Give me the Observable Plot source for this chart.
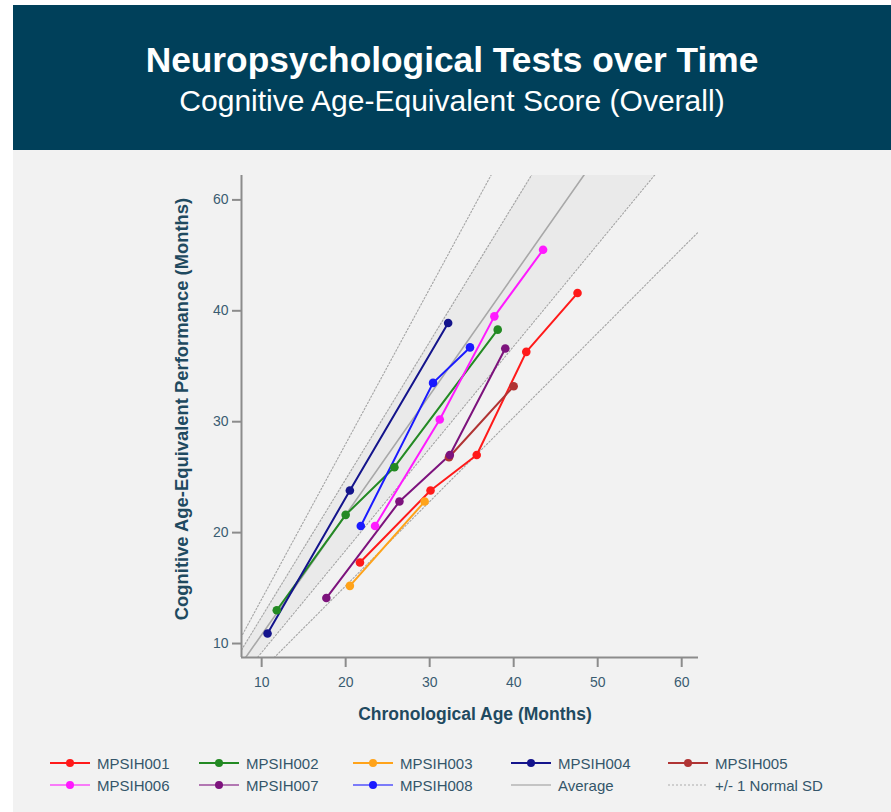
<!DOCTYPE html>
<html>
<head>
<meta charset="utf-8">
<script src="https://cdn.jsdelivr.net/npm/d3@7"></script>
<script src="https://cdn.jsdelivr.net/npm/@observablehq/plot@0.6"></script>
<style>
  html, body { margin: 0; padding: 0; background: #ffffff; }
  body { width: 891px; height: 812px; position: relative; overflow: hidden;
         font-family: "Liberation Sans", Arial, sans-serif; }
  #panel { position: absolute; left: 13px; top: 150px; width: 878px; height: 662px; background: #f2f2f2; }
  #header { position: absolute; left: 13px; top: 5px; width: 878px; height: 145px; background: #00405a;
            color: #ffffff; text-align: center; }
  #header .t { position: absolute; left: 0; right: 0; top: 35px; font-size: 35.3px; font-weight: bold; line-height: 40px; }
  #header .s { position: absolute; left: 0; right: 0; top: 79px; font-size: 30px; line-height: 34px; }
  #chart { position: absolute; left: 0; top: 150px; }
  .axis-title { position: absolute; color: #1f4a60; font-weight: bold; white-space: nowrap; }
  #xtitle { left: 475px; top: 714px; font-size: 17.5px; transform: translate(-50%, -50%); }
  #ytitle { left: 182px; top: 409px; font-size: 18.4px; transform: translate(-50%, -50%) rotate(-90deg); }
  #legend { position: absolute; left: 0; top: 0; }
  .item { position: absolute; display: flex; align-items: center; height: 20px; font-size: 15px; color: #34566a; white-space: nowrap; }
  .item svg { margin-right: 7px; }
</style>
</head>
<body>
<div id="panel"></div>
<div id="header">
  <div class="t">Neuropsychological Tests over Time</div>
  <div class="s">Cognitive Age-Equivalent Score (Overall)</div>
</div>
<div id="chart"></div>
<div class="axis-title" id="xtitle">Chronological Age (Months)</div>
<div class="axis-title" id="ytitle">Cognitive Age-Equivalent Performance (Months)</div>
<div id="legend"></div>
<script>
// Subjects and their colours
const subjectIds = ["MPSIH001", "MPSIH002", "MPSIH003", "MPSIH004", "MPSIH005", "MPSIH006", "MPSIH007", "MPSIH008"];
const subjectColors = ["#ff1a1a", "#238a23", "#ffa31a", "#14148c", "#b03434", "#ff1aff", "#7d137d", "#1a1aff"];

// Chronological age (months) at each visit, per subject
const age001 = [21.7, 30.1, 35.6, 41.5, 47.6];
const age002 = [11.8, 20.0, 25.8, 38.1];
const age003 = [20.5, 29.4];
const age004 = [10.7, 20.5, 32.2];
const age005 = [32.3, 40.0];
const age006 = [23.5, 31.2, 37.7, 43.5];
const age007 = [17.7, 26.4, 32.4, 39.0];
const age008 = [21.8, 30.4, 34.8];

// Cognitive age-equivalent score (months) at each visit
const score001 = [17.3, 23.8, 27.0, 36.3, 41.6];
const score002 = [13.0, 21.6, 25.9, 38.3];
const score003 = [15.2, 22.8];
const score004 = [10.9, 23.8, 38.9];
const score005 = [26.8, 33.2];
const score006 = [20.6, 30.2, 39.5, 45.5];
const score007 = [14.1, 22.8, 27.0, 36.6];
const score008 = [20.6, 33.5, 36.7];

// Normative reference: average ratio of cognitive to chronological age, and the SD bands
const averageSlope = 1.08;
const sdSlopes = [1.40, 1.24, 0.92, 0.76];
const bandLow = 0.92;
const bandHigh = 1.24;

// Axis ranges and ticks
const xDomain = [7.6, 62];
const yDomain = [8.74, 52.2];
const xTicks = [10, 20, 30, 40, 50, 60];
const yTicks = [10, 20, 30, 40, 50];
const yTickLabels = ["10", "20", "30", "40", "60"];

const ages = [age001, age002, age003, age004, age005, age006, age007, age008];
const scores = [score001, score002, score003, score004, score005, score006, score007, score008];
const visits = subjectIds.flatMap((id, i) => ages[i].map((a, j) => ({id, age: a, score: scores[i][j]})));

const xSpan = [0, 70];
const refRows = xSpan.map(x => ({x, y: x * averageSlope}));
const sdRows = sdSlopes.flatMap(k => xSpan.map(x => ({k, x, y: x * k})));
const yLabelOf = new Map(yTicks.map((t, i) => [t, yTickLabels[i]]));

const axisGray = "#8c8c8c";
const tickText = "#3a5c71";

const chart = Plot.plot({
  width: 891,
  height: 590,
  marginLeft: 241,
  marginRight: 193,
  marginTop: 25,
  marginBottom: 83,
  style: {background: "transparent", fontFamily: "'Liberation Sans', Arial, sans-serif", fontSize: "14px"},
  x: {domain: xDomain},
  y: {domain: yDomain},
  color: {domain: subjectIds, range: subjectColors},
  marks: [
    Plot.areaY(xSpan, {x: d => d, y1: d => d * bandLow, y2: d => d * bandHigh, fill: "#eaeaea", clip: true}),
    Plot.line(sdRows, {x: "x", y: "y", z: "k", stroke: "#a4a4a4", strokeWidth: 1.1, strokeDasharray: "1.5,2", clip: true}),
    Plot.line(refRows, {x: "x", y: "y", stroke: "#a8a8a8", strokeWidth: 1.6, clip: true}),
    Plot.line(visits, {x: "age", y: "score", z: "id", stroke: "id", strokeWidth: 2}),
    Plot.dot(visits, {x: "age", y: "score", fill: "id", r: 4.3}),
    Plot.ruleX([xDomain[0]], {stroke: axisGray, strokeWidth: 2}),
    Plot.ruleY([yDomain[0]], {stroke: axisGray, strokeWidth: 2}),
    Plot.axisX({ticks: xTicks, tickSize: 10, tickPadding: 10, stroke: axisGray, strokeWidth: 2, fill: tickText, label: null}),
    Plot.axisY({ticks: yTicks, tickSize: 9, tickPadding: 4, stroke: axisGray, strokeWidth: 2, fill: tickText,
                tickFormat: d => yLabelOf.get(d), label: null})
  ]
});
document.getElementById("chart").appendChild(chart);

// Legend: five columns, two rows
const legendItems = [
  ...subjectIds.map((id, i) => ({label: id, color: subjectColors[i], kind: "subject", faded: i >= 5})),
  {label: "Average", color: "#b4b4b4", kind: "avg"},
  {label: "+/- 1 Normal SD", color: "#c4c4c4", kind: "sd"}
];
const colX = [50, 199, 353, 511, 668];
const rowY = [753, 775];
const legend = d3.select("#legend");
legendItems.forEach((it, i) => {
  const c = i % 5, r = Math.floor(i / 5);
  const div = legend.append("div").attr("class", "item")
    .style("left", colX[c] + "px").style("top", rowY[r] + "px");
  const svg = div.append("svg").attr("width", 40).attr("height", 12);
  const ln = svg.append("line").attr("x1", 0).attr("x2", 40).attr("y1", 6).attr("y2", 6)
    .attr("stroke", it.color).attr("stroke-width", it.kind === "subject" ? 2 : 1.4);
  if (it.faded) ln.attr("stroke-opacity", 0.55);
  if (it.kind === "sd") ln.attr("stroke-dasharray", "2,2");
  if (it.kind === "subject") svg.append("circle").attr("cx", 20).attr("cy", 6).attr("r", 4).attr("fill", it.color);
  div.append("span").text(it.label);
});
</script>
</body>
</html>
